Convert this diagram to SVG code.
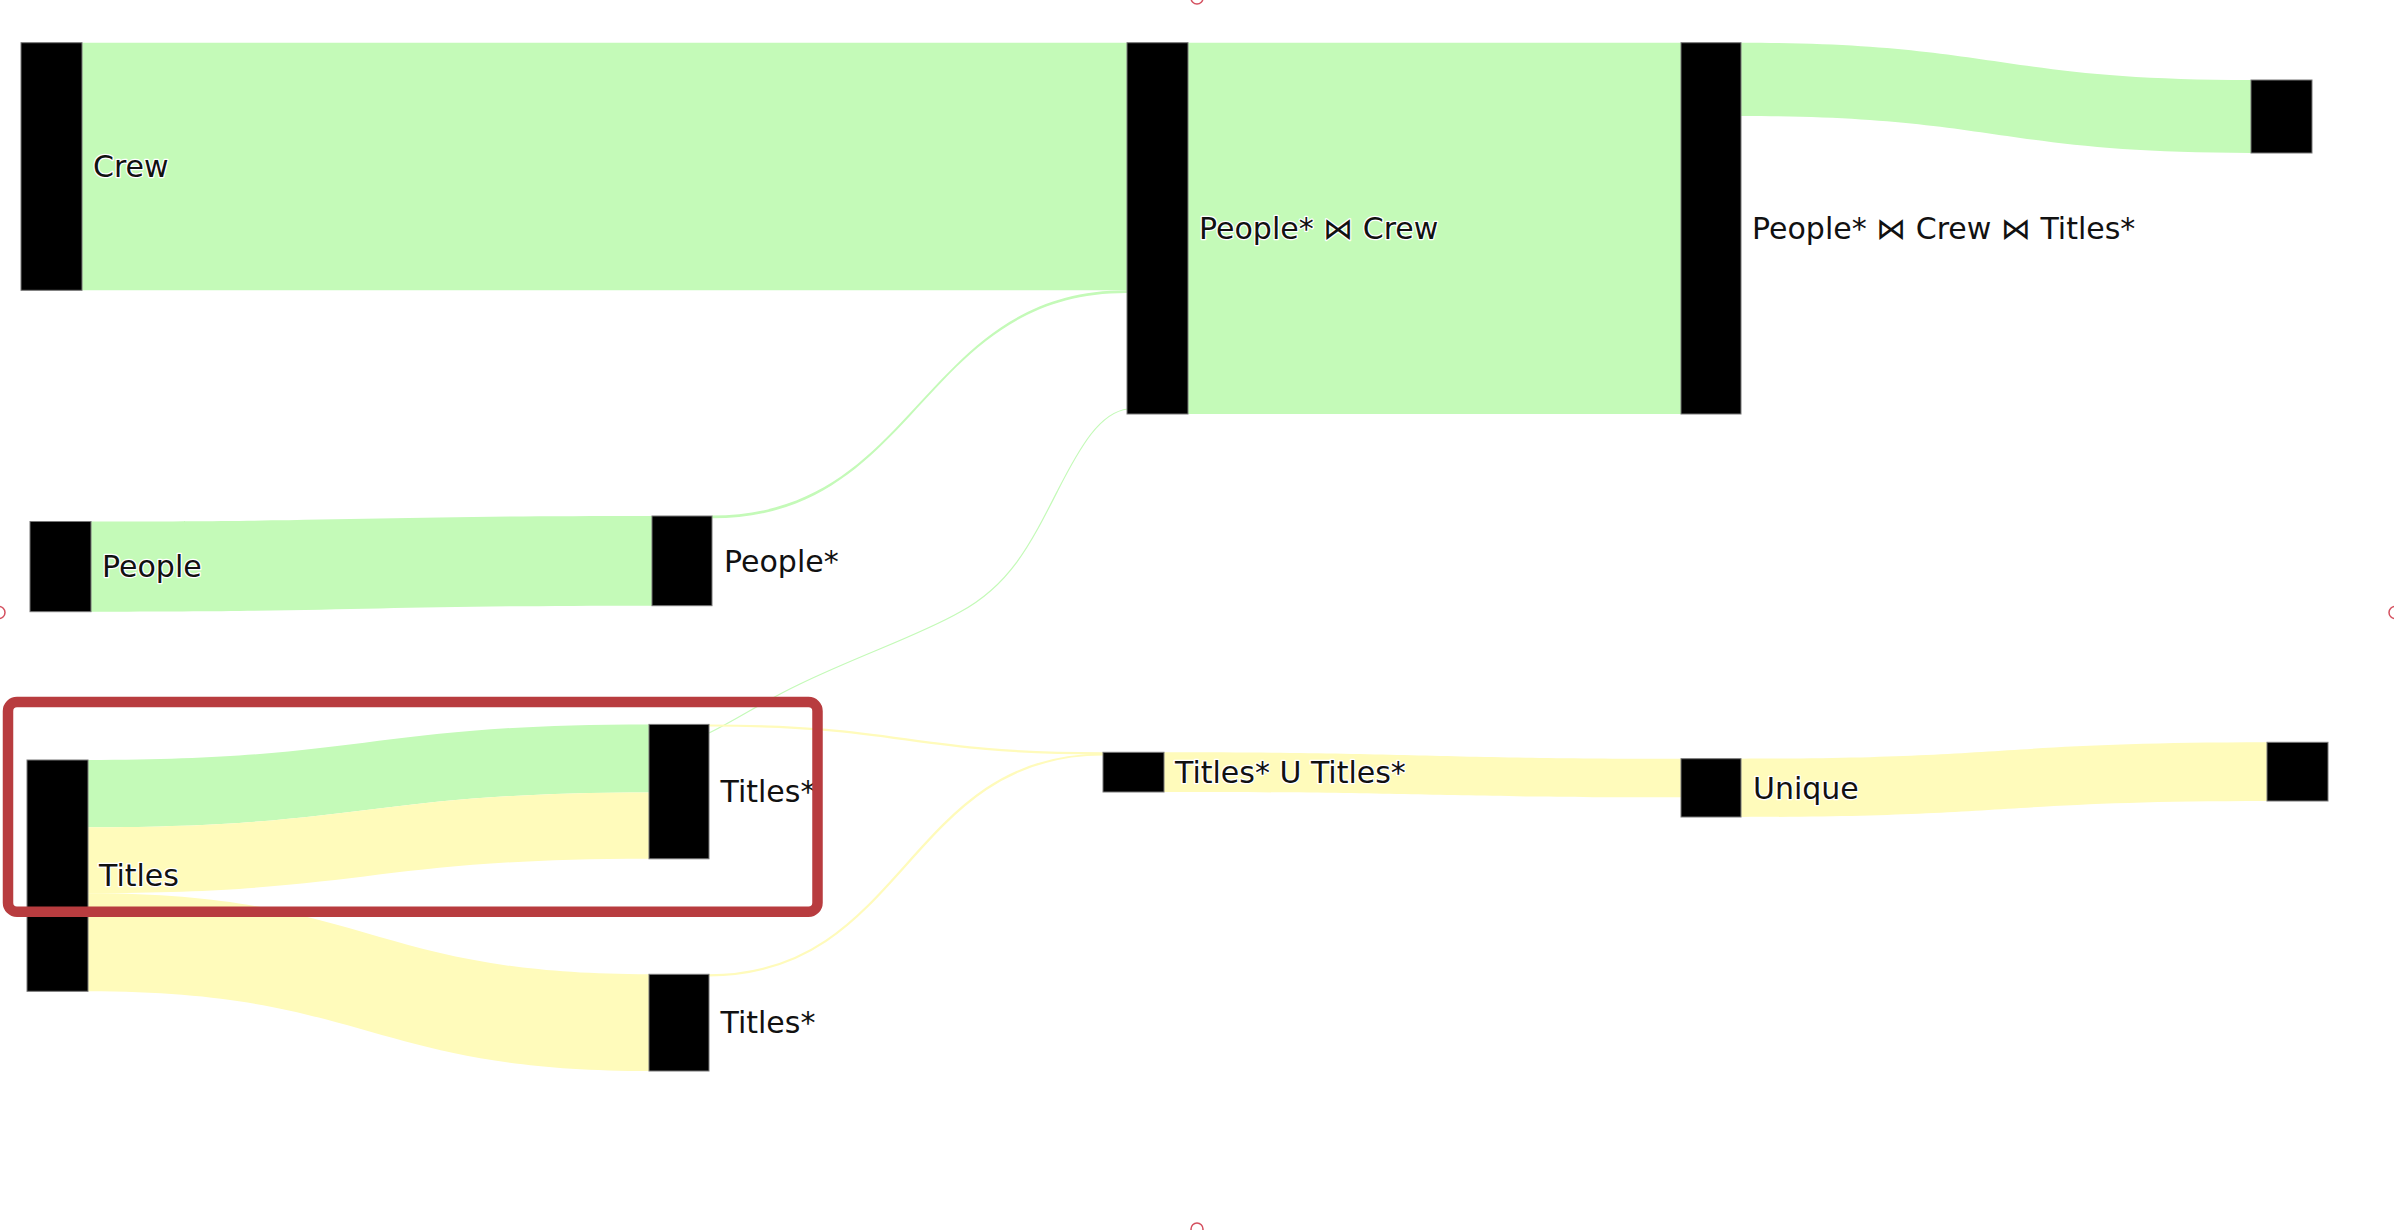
<svg xmlns="http://www.w3.org/2000/svg" width="2394" height="1230" viewBox="0 0 2394 1230">
<style>
.node rect{fill:#000;stroke:#777;stroke-width:1}
.g{fill:#c4fab8}
.y{fill:#fffbbb}
.gs{fill:none;stroke:#c4fab8}
.ys{fill:none;stroke:#fffbbb}
text{font-family:"DejaVu Sans",Verdana,sans-serif;font-size:30px;fill:#111;stroke:#fff;stroke-width:2.5px;paint-order:stroke;stroke-linejoin:round}
.handle{fill:none;stroke:#d4505f;stroke-width:1.5}
</style>
<rect width="2394" height="1230" fill="#fff"/>
<g id="links">
<path class="g" d="M82,42.7 L1127,42.7 L1127,290.3 L82,290.3 Z"/>
<path class="g" d="M91,521.5 C371.5,521.5 371.5,516 652,516 L652,605.7 C371.5,605.7 371.5,611.7 91,611.7 Z"/>
<path class="g" d="M712,515.5 C919.5,515.5 919.5,290.3 1127,290.3 L1127,293 C919.5,293 919.5,518.3 712,518.3 Z"/>
<path class="g" d="M88,760 C368.5,760 368.5,724.4 649,724.4 L649,792.4 C368.5,792.4 368.5,827.2 88,827.2 Z"/>
<path class="y" d="M88,827.2 C368.5,827.2 368.5,792.4 649,792.4 L649,858.8 C368.5,858.8 368.5,893.2 88,893.2 Z"/>
<path class="y" d="M88,893.2 C368.5,893.2 368.5,974.3 649,974.3 L649,1071 C368.5,1071 368.5,991.3 88,991.3 Z"/>
<path class="gs" stroke-width="1.2" d="M709,733 C740,718 760,703 800,684 C860,655 920,635 960,612 C1010,585 1030,545 1058,490 C1080,447 1100,412 1128,409"/>
<path class="ys" stroke-width="2.2" d="M709,725.5 C906,725.5 906,753.3 1103,753.3"/>
<path class="ys" stroke-width="2.2" d="M709,975.3 C906,975.3 906,754.5 1103,754.5"/>
<path class="g" d="M1188,42.7 L1681,42.7 L1681,414 L1188,414 Z"/>
<path class="g" d="M1741,42.7 C1996,42.7 1996,80 2251,80 L2251,153 C1996,153 1996,116 1741,116 Z"/>
<path class="y" d="M1164,752.3 C1422.5,752.3 1422.5,758.7 1681,758.7 L1681,797.3 C1422.5,797.3 1422.5,792 1164,792 Z"/>
<path class="y" d="M1741,758.7 C2004,758.7 2004,742.3 2267,742.3 L2267,801 C2004,801 2004,817 1741,817 Z"/>
</g>
<g id="node-crew" class="node"><rect x="21" y="42.7" width="61" height="247.6"/><text x="93" y="177">Crew</text></g>
<g id="node-people" class="node"><rect x="30" y="521.5" width="61" height="90.2"/><text x="102" y="577">People</text></g>
<g id="node-titles" class="node"><rect x="27" y="760" width="61" height="231.3"/><text x="99" y="886">Titles</text></g>
<g id="node-people-star" class="node"><rect x="652" y="516" width="60" height="89.7"/><text x="724" y="571.5">People*</text></g>
<g id="node-titles-star-1" class="node"><rect x="649" y="724.4" width="60" height="134.4"/><text x="720.5" y="802">Titles*</text></g>
<g id="node-titles-star-2" class="node"><rect x="649" y="974.3" width="60" height="96.7"/><text x="720.5" y="1033">Titles*</text></g>
<g id="node-people-crew" class="node"><rect x="1127" y="42.7" width="61" height="371.3"/><text x="1199" y="238.5">People* ⋈ Crew</text></g>
<g id="node-union" class="node"><rect x="1103" y="752.3" width="61" height="39.7"/><text x="1175" y="783">Titles* U Titles*</text></g>
<g id="node-people-crew-titles" class="node"><rect x="1681" y="42.7" width="60" height="371.3"/><text x="1752" y="238.5">People* ⋈ Crew ⋈ Titles*</text></g>
<g id="node-unique" class="node"><rect x="1681" y="758.7" width="60" height="58.3"/><text x="1753" y="798.5">Unique</text></g>
<g id="node-end-1" class="node"><rect x="2251" y="80" width="61" height="73"/></g>
<g id="node-end-2" class="node"><rect x="2267" y="742.3" width="61" height="58.7"/></g>
<rect id="highlight" x="8" y="702" width="809.5" height="209.7" rx="9" ry="9" fill="none" stroke="#b83c3f" stroke-width="10.5"/>
<g id="handles">
<circle class="handle" cx="1197" cy="-2" r="6"/>
<circle class="handle" cx="-1" cy="612.5" r="6"/>
<circle class="handle" cx="2395" cy="612.5" r="6"/>
<circle class="handle" cx="1197" cy="1229" r="6"/>
</g>
</svg>
